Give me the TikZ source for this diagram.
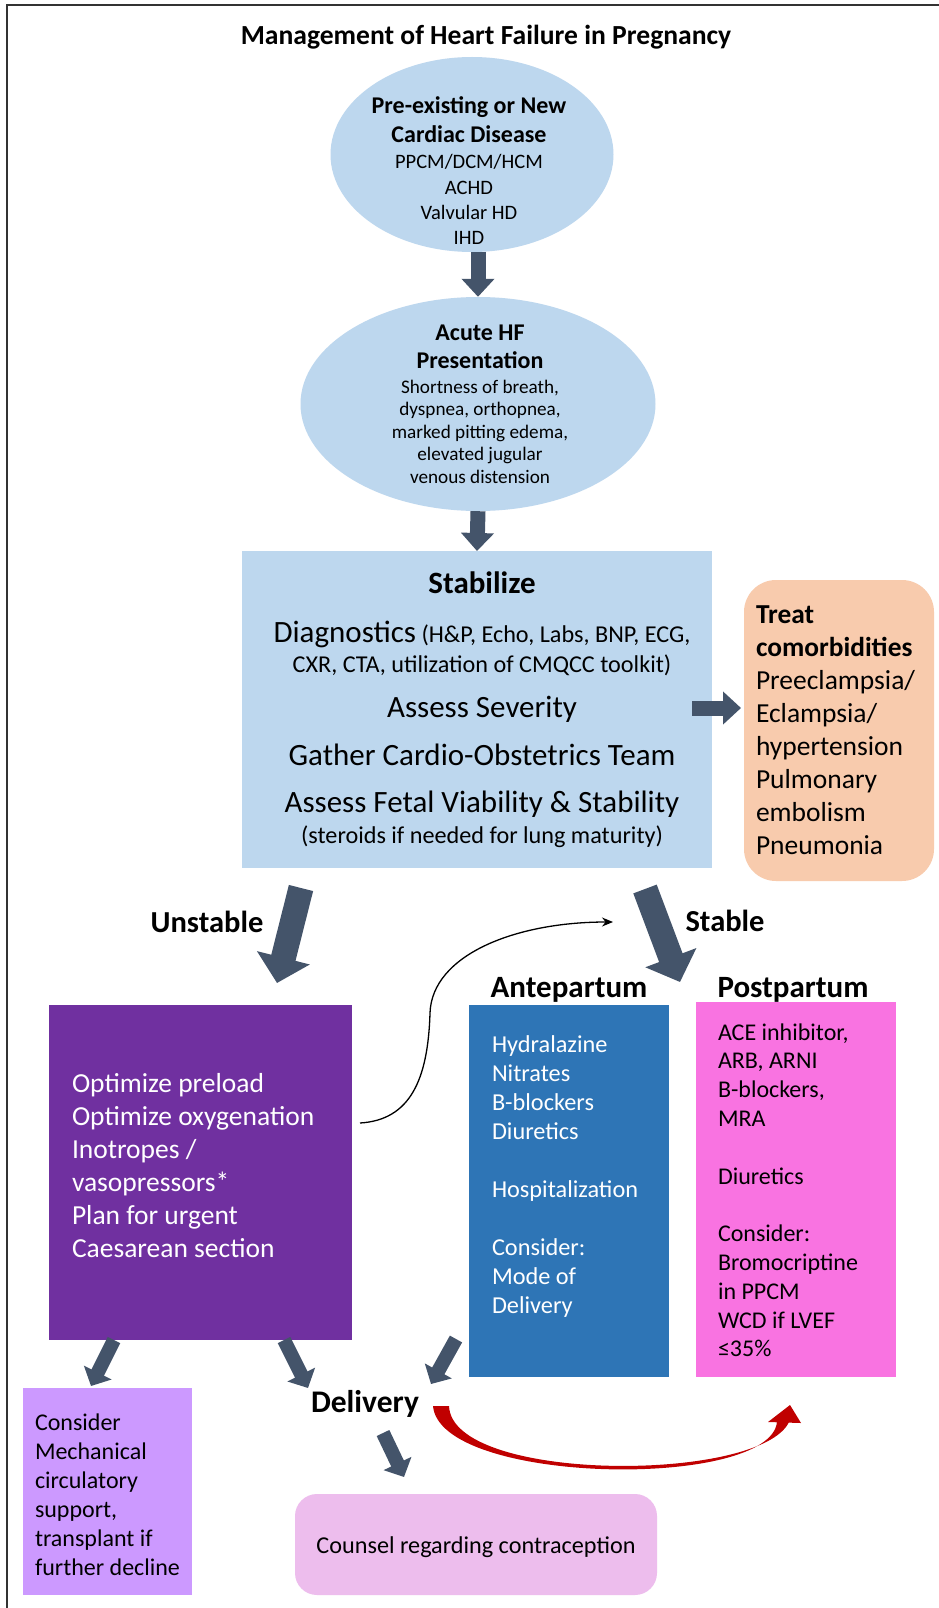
\documentclass[tikz,border=0pt]{standalone}
\usepackage{fontspec}
\setmainfont{Carlito}
\usetikzlibrary{arrows.meta,shapes.geometric}

\begin{document}
\begin{tikzpicture}[x=1pt,y=-1pt,
  txt/.style={anchor=base,inner sep=0pt,outer sep=0pt},
  txtLeft/.style={anchor=base west,inner sep=0pt,outer sep=0pt},
  box/.style={rectangle,inner sep=0pt,outer sep=0pt},
  blockArrow/.style={draw=slateColor,line width=15pt,-{Triangle[width=32pt,length=18pt]}},
  bigArrow/.style={draw=slateColor,line width=25pt,-{Triangle[width=53pt,length=26pt]}},
  smallArrow/.style={draw=slateColor,line width=14pt,-{Triangle[width=30pt,length=15pt]}}]
\definecolor{frameColor}{RGB}{51,51,51}
\definecolor{ovalColor}{RGB}{189,215,238}
\definecolor{slateColor}{RGB}{68,84,106}
\definecolor{peachColor}{RGB}{248,203,173}
\definecolor{purpleColor}{RGB}{112,48,160}
\definecolor{blueColor}{RGB}{46,117,182}
\definecolor{pinkColor}{RGB}{249,115,225}
\definecolor{lavenderColor}{RGB}{204,153,255}
\definecolor{counselColor}{RGB}{237,189,237}
\definecolor{redColor}{RGB}{192,0,0}
\path[use as bounding box,fill=white] (0,0) rectangle (939,1608);

% frame
\draw[frameColor,line width=2pt] (939,5) -- (7,5) -- (7,1608);

% title
\node[txt,font=\fontsize{27.6}{33}\selectfont\bfseries] (title) at (486,45) {Management of Heart Failure in Pregnancy};

% ovals
\node[ellipse,fill=ovalColor,inner sep=0pt,minimum width=283pt,minimum height=195pt] (pre) at (472,154.5) {};
\node[txt,font=\fontsize{24}{29}\selectfont\bfseries] (preHead1) at (469,114) {Pre-existing or New};
\node[txt,font=\fontsize{24}{29}\selectfont\bfseries] (preHead2) at (469,143) {Cardiac Disease};
\foreach \line [count=\i] in {PPCM/DCM/HCM, ACHD, Valvular HD, IHD}
  \node[txt,font=\fontsize{20.5}{25}\selectfont] (pre\i) at (469,144+25*\i) {\line};

\node[ellipse,fill=ovalColor,inner sep=0pt,minimum width=355pt,minimum height=214pt] (acute) at (478,404) {};
\node[txt,font=\fontsize{24}{29}\selectfont\bfseries] (acuteHead1) at (480,340) {Acute HF};
\node[txt,font=\fontsize{24}{29}\selectfont\bfseries] (acuteHead2) at (480,368) {Presentation};
\foreach \line [count=\i] in {{Shortness of breath,}, {dyspnea, orthopnea,}, {marked pitting edema,}, elevated jugular, venous distension}
  \node[txt,font=\fontsize{19.2}{23}\selectfont] (acute\i) at (480,370.5+22.5*\i) {\line};

% stabilize
\node[box,fill=ovalColor,minimum width=470pt,minimum height=317pt] (stab) at (477,709.5) {};
\node[txt,font=\fontsize{31}{37}\selectfont\bfseries] (stabHead) at (482,593) {Stabilize};
\node[txt,font=\fontsize{24.2}{29}\selectfont] (diag1) at (482,642) {{\fontsize{31}{37}\selectfont Diagnostics} (H\&P, Echo, Labs, BNP, ECG,};
\node[txt,font=\fontsize{24.2}{29}\selectfont] (diag2) at (482,672) {CXR, CTA, utilization of CMQCC toolkit)};
\node[txt,font=\fontsize{31}{37}\selectfont] (severity) at (482,717) {Assess Severity};
\node[txt,font=\fontsize{31}{37}\selectfont] (team) at (482,765) {Gather Cardio-Obstetrics Team};
\node[txt,font=\fontsize{31}{37}\selectfont] (fetal) at (482,812) {Assess Fetal Viability \& Stability};
\node[txt,font=\fontsize{24.2}{29}\selectfont] (steroids) at (482,843) {(steroids if needed for lung maturity)};

\draw[blockArrow] (pre.south -| acute.north) -- (acute.north);
\draw[blockArrow] (acute.south) -- (stab.north);

% comorbidities
\node[box,fill=peachColor,rounded corners=32pt,minimum width=190pt,minimum height=301pt] (treat) at (839,730.5) {};
\node[txtLeft,font=\fontsize{27.4}{33}\selectfont\bfseries] (treat1) at (756,623) {Treat};
\node[txtLeft,font=\fontsize{27.4}{33}\selectfont\bfseries] (treat2) at (756,656) {comorbidities};
\foreach \line [count=\i from 3] in {Preeclampsia/, Eclampsia/, hypertension, Pulmonary, embolism, Pneumonia}
  \node[txtLeft,font=\fontsize{27.5}{33}\selectfont] (treat\i) at (756,590+33*\i) {\line};
\draw[blockArrow] ([xshift=-20pt]stab.east |- 0,708) -- ([xshift=-3pt]treat.west |- 0,708);

% branches
\coordinate (unstTail) at (301,888);
\coordinate (unstTip) at (277,983);
\coordinate (stabTail) at (645,889);
\coordinate (stabTip) at (680,982);
\draw[bigArrow] (unstTail) -- (unstTip);
\draw[bigArrow] (stabTail) -- (stabTip);
\node[txt,font=\fontsize{30.5}{36}\selectfont\bfseries] (unstable) at (207,932) {Unstable};
\node[txt,font=\fontsize{30.5}{36}\selectfont\bfseries] (stable) at (725,931) {Stable};
\node[txt,font=\fontsize{31}{37}\selectfont\bfseries] (antehead) at (569,997) {Antepartum};
\node[txt,font=\fontsize{31}{37}\selectfont\bfseries] (posthead) at (793,997) {Postpartum};

% unstable box
\node[box,fill=purpleColor,minimum width=303pt,minimum height=335pt] (optim) at (200.5,1172.5) {};
\foreach \line [count=\i] in {Optimize preload, Optimize oxygenation, Inotropes /, vasopressors*, Plan for urgent, Caesarean section}
  \node[txtLeft,text=white,font=\fontsize{27.5}{33}\selectfont] (optim\i) at (72,1059+33*\i) {\line};

% antepartum box
\node[box,fill=blueColor,minimum width=200pt,minimum height=372pt] (ante) at (569,1191) {};
\foreach \n/\line in {0/Hydralazine, 1/Nitrates, 2/B-blockers, 3/Diuretics, 5/Hospitalization, 7/Consider:, 8/Mode of, 9/Delivery}
  \node[txtLeft,text=white,font=\fontsize{24.3}{29}\selectfont] (ante\n) at (492,1052+29*\n) {\line};

% postpartum box
\node[box,fill=pinkColor,minimum width=200pt,minimum height=375pt] (post) at (796,1189.5) {};
\foreach \n/\line in {0/{ACE inhibitor,}, 1/{ARB, ARNI}, 2/{B-blockers,}, 3/MRA, 5/Diuretics, 7/Consider:, 8/Bromocriptine, 9/in PPCM, 10/WCD if LVEF, 11/≤35\%}
  \node[txtLeft,font=\fontsize{24}{29}\selectfont] (post\n) at (718,1040+28.8*\n) {\line};

% back to stable
\coordinate (loopStart) at (360,1123);
\coordinate (loopEnd) at (613,922);
\draw[line width=1.3pt,-{Stealth[length=11pt,width=9pt]}] (loopStart) .. controls (410,1120) and (428,1080) .. (430,1013)
  .. controls (432,955) and (515,922) .. (loopEnd);

% delivery
\node[txt,font=\fontsize{31.5}{38}\selectfont\bfseries] (delivery) at (365,1412) {Delivery};
\node[box,fill=lavenderColor,minimum width=169pt,minimum height=207pt] (mcs) at (107.5,1491.5) {};
\foreach \line [count=\i] in {Consider, Mechanical, circulatory, {support,}, transplant if, further decline}
  \node[txtLeft,font=\fontsize{24}{29}\selectfont] (mcs\i) at (35,1400.9+29.1*\i) {\line};
\node[box,fill=counselColor,rounded corners=22pt,minimum width=362pt,minimum height=101pt] (counsel) at (476,1544.5) {};
\node[txt,font=\fontsize{24.2}{29}\selectfont] (counselText) at (476,1553) {Counsel regarding contraception};

\coordinate (mcsTip) at (91,1386);
\coordinate (delivTipA) at (308,1388);
\coordinate (delivTailB) at (456,1339);
\coordinate (delivTipB) at (431,1384);
\coordinate (counselTail) at (383,1433);
\coordinate (counselTip) at (404,1477);
\draw[smallArrow] ([xshift=65pt]optim.south west) -- (mcsTip);
\draw[smallArrow] ([xshift=235pt]optim.south west) -- (delivTipA);
\draw[smallArrow] (delivTailB) -- (delivTipB);
\draw[smallArrow] (counselTail) -- (counselTip);

% delivery to postpartum
\coordinate (redStart) at (441,1406);
\coordinate (redEnd) at (783,1422);
\fill[redColor] ([xshift=-8pt]redStart) .. controls (440,1485) and (770,1490) .. ([xshift=-6pt]redEnd)
  -- ([xshift=6pt]redEnd) .. controls (760,1483) and (452,1483) .. ([xshift=8pt]redStart) -- cycle;
\fill[redColor] ([xshift=-15pt]redEnd) -- (790,1405) -- ([xshift=18pt,yshift=-1pt]redEnd) -- cycle;
\end{tikzpicture}
\end{document}
